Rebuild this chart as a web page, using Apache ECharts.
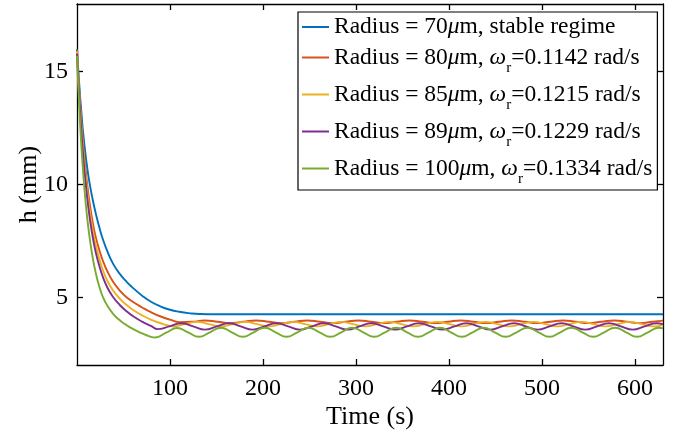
<!DOCTYPE html>
<html>
<head>
<meta charset="utf-8">
<script src="https://cdn.jsdelivr.net/npm/echarts@6/dist/echarts.min.js"></script>
<style>html,body{margin:0;padding:0;background:#fff}#c{width:676px;height:440px}</style>
</head>
<body>
<div id="c"></div>
<script>
// ---- data ----
const xTicks = [100, 200, 300, 400, 500, 600];
const yTicks = [5, 10, 15];
const radii = [70, 80, 85, 89, 100];
const omegas = [null, '0.1142', '0.1215', '0.1229', '0.1334'];

const blueT = [0,1,2,3,4,5,6,8,10,12,14,17,20,24,28,33,39,46,52,60,71,80,90,100,110,120,132,150,630];
const blueH = [16.0,15.3,14.7,14.1,13.55,13.05,12.55,11.75,11.05,10.45,9.95,9.3,8.75,8.1,7.55,7.0,6.47,6.04,5.75,5.42,5.04,4.79,4.59,4.45,4.36,4.3,4.26,4.25,4.25];

const orangeT = [0,1,2,3,4,5,6,8,10,12,14,17,20,24,28,33,39,46,52,60,70,80,90,100,
  110,123.75,137.5,151.25,165,178.75,192.5,206.25,220,233.75,247.5,261.25,275,288.75,302.5,316.25,330,343.75,357.5,371.25,385,398.75,412.5,426.25,440,453.75,467.5,481.25,495,508.75,522.5,536.25,550,563.75,577.5,591.25,605,618.75,630];
const orangeH = [15.95,15.18,14.45,13.78,13.17,12.6,12.08,11.15,10.35,9.65,9.06,8.3,7.7,7.1,6.6,6.12,5.68,5.3,5.05,4.8,4.55,4.33,4.15,4.01,
  3.9,3.915,3.975,3.915,3.855,3.915,3.975,3.915,3.855,3.915,3.975,3.915,3.855,3.915,3.975,3.915,3.855,3.915,3.975,3.915,3.855,3.915,3.975,3.915,3.855,3.915,3.975,3.915,3.855,3.915,3.975,3.915,3.855,3.915,3.975,3.915,3.855,3.915,3.965];

const yellowT = [0,1,2,3,4,5,6,8,10,12,14,17,20,24,28,33,39,46,52,60,70,80,90,97,
  103,115.9,128.9,141.8,154.7,167.6,180.6,193.5,206.4,219.3,232.3,245.2,258.1,271,284,296.9,309.8,322.7,335.7,348.6,361.5,374.4,387.4,400.3,413.2,426.1,439.1,452,464.9,477.8,490.8,503.7,516.6,529.5,542.5,555.4,568.3,581.2,594.2,607.1,620,630];
const yellowH = [15.9,15.09,14.34,13.65,13.01,12.43,11.88,10.9,10.08,9.36,8.75,7.97,7.34,6.71,6.19,5.7,5.29,4.94,4.7,4.45,4.2,4.0,3.85,3.76,
  3.71,3.81,3.91,3.81,3.71,3.81,3.91,3.81,3.71,3.81,3.91,3.81,3.71,3.81,3.91,3.81,3.71,3.81,3.91,3.81,3.71,3.81,3.91,3.81,3.71,3.81,3.91,3.81,3.71,3.81,3.91,3.81,3.71,3.81,3.91,3.81,3.71,3.81,3.91,3.81,3.71,3.78];

const purpleT = [0,1,2,3,4,5,6,8,10,12,14,17,20,24,28,33,39,46,52,60,70,80,
  86.5,99.3,112.1,124.8,137.6,150.4,163.2,175.9,188.7,201.5,214.3,227,239.8,252.6,265.4,278.1,290.9,303.7,316.5,329.2,342,354.8,367.6,380.3,393.1,405.9,418.7,431.4,444.2,457,469.8,482.5,495.3,508.1,520.9,533.6,546.4,559.2,572,584.7,597.5,610.3,623.1,630];
const purpleH = [15.8,14.95,14.17,13.45,12.8,12.19,11.62,10.62,9.77,9.05,8.42,7.65,7.02,6.39,5.88,5.4,5.0,4.66,4.43,4.17,3.92,3.72,
  3.59,3.71,3.85,3.71,3.57,3.71,3.85,3.71,3.57,3.71,3.85,3.71,3.57,3.71,3.85,3.71,3.57,3.71,3.85,3.71,3.57,3.71,3.85,3.71,3.57,3.71,3.85,3.71,3.57,3.71,3.85,3.71,3.57,3.71,3.85,3.71,3.57,3.71,3.85,3.71,3.57,3.71,3.85,3.81];

const greenT = [0,1,2,3,4,5,6,8,10,12,14,17,20,24,28,33,39,46,52,60,70,78,
  84,95.8,107.6,119.3,131.1,142.9,154.7,166.4,178.2,190,201.8,213.5,225.3,237.1,248.9,260.6,272.4,284.2,296,307.7,319.5,331.3,343.1,354.8,366.6,378.4,390.2,401.9,413.7,425.5,437.3,449,460.8,472.6,484.4,496.1,507.9,519.7,531.5,543.2,555,566.8,578.6,590.3,602.1,613.9,625.7,630];
const greenH = [15.7,14.7,13.79,12.95,12.19,11.51,10.89,9.8,8.9,8.15,7.52,6.73,6.11,5.47,5.0,4.6,4.26,3.98,3.8,3.6,3.4,3.27,
  3.22,3.43,3.64,3.45,3.25,3.45,3.65,3.45,3.25,3.45,3.65,3.45,3.25,3.45,3.65,3.45,3.25,3.45,3.65,3.45,3.25,3.45,3.65,3.45,3.25,3.45,3.65,3.45,3.25,3.45,3.65,3.45,3.25,3.45,3.65,3.45,3.25,3.45,3.65,3.45,3.25,3.45,3.65,3.45,3.25,3.45,3.65,3.62];

// ---- chart ----
const FONT = 'Liberation Serif, Times New Roman, serif';
const colors = ['#0072BD', '#D95319', '#EDB120', '#7E2F8E', '#77AC30'];
const allT = [blueT, orangeT, yellowT, purpleT, greenT];
const allH = [blueH, orangeH, yellowH, purpleH, greenH];
const names = radii.map((r, i) => 'Radius = ' + r + 'μm, ' + (omegas[i] ? 'ωr=' + omegas[i] + ' rad/s' : 'stable regime'));

function legendFmt(name) {
  let m = name.match(/^Radius = (\d+)μm, ωr=(.*)$/);
  if (m) return '{t|Radius = ' + m[1] + '}{i|μ}{t|m, }{i|ω}{s|r}{t|=' + m[2] + '}';
  m = name.match(/^Radius = (\d+)μm, (.*)$/);
  return '{t1|Radius = ' + m[1] + '}{i1|μ}{t1|m, ' + m[2] + '}';
}

const series = names.map((n, k) => ({
  name: n,
  type: 'line',
  data: allT[k].map((t, i) => [t, allH[k][i]]),
  symbol: 'none',
  showSymbol: false,
  smooth: true,
  lineStyle: { color: colors[k], width: 1.9 },
  itemStyle: { color: colors[k] },
  z: 2 + k
}));

const axLine = { show: true, onZero: false, lineStyle: { color: '#000', width: 1.3 } };
const tickStyle = { color: '#000', width: 1.3 };
const FS = 23.5;

const chart = echarts.init(document.getElementById('c'), null, { renderer: 'canvas' });
chart.setOption({
  animation: false,
  backgroundColor: '#fff',
  grid: { left: 77, right: 13, top: 4, bottom: 75, containLabel: false },
  legend: {
    data: names.map((n, k) => ({ name: n, icon: 'rect', itemStyle: { color: colors[k], borderWidth: 0 } })),
    orient: 'vertical',
    left: 298,
    top: 12,
    padding: [3, 5, 3, 4],
    itemGap: 0,
    itemWidth: 27,
    itemHeight: 2,
    selectedMode: false,
    borderColor: '#000',
    borderWidth: 1.2,
    borderRadius: 0,
    backgroundColor: '#fff',
    formatter: legendFmt,
    textStyle: {
      fontFamily: FONT, fontSize: FS, color: '#000',
      rich: {
        t: { fontFamily: FONT, fontSize: FS, lineHeight: 37, color: '#000' },
        i: { fontFamily: FONT, fontSize: FS, lineHeight: 37, fontStyle: 'italic', color: '#000' },
        s: { fontFamily: FONT, fontSize: 15, lineHeight: 15, padding: [22, 0, 0, 0], verticalAlign: 'top', color: '#000' },
        t1: { fontFamily: FONT, fontSize: FS, lineHeight: 25, color: '#000' },
        i1: { fontFamily: FONT, fontSize: FS, lineHeight: 25, fontStyle: 'italic', color: '#000' }
      }
    }
  },
  xAxis: [
    {
      type: 'value', position: 'bottom', min: 0, max: 630,
      axisLine: axLine,
      axisTick: { show: true, inside: true, length: 6, customValues: xTicks, lineStyle: tickStyle },
      axisLabel: { customValues: xTicks, fontFamily: FONT, fontSize: 24, color: '#000', margin: 12 },
      splitLine: { show: false },
      name: 'Time (s)', nameLocation: 'middle', nameGap: 39, nameMoveOverlap: false,
      nameTextStyle: { fontFamily: FONT, fontSize: 26, color: '#000' }
    },
    {
      type: 'value', position: 'top', min: 0, max: 630,
      axisLine: axLine,
      axisTick: { show: true, inside: true, length: 6, customValues: xTicks, lineStyle: tickStyle },
      axisLabel: { show: false },
      splitLine: { show: false }
    }
  ],
  yAxis: [
    {
      type: 'value', position: 'left', min: 2, max: 18,
      axisLine: axLine,
      axisTick: { show: true, inside: true, length: 6, customValues: yTicks, lineStyle: tickStyle },
      axisLabel: { customValues: yTicks, fontFamily: FONT, fontSize: 24, color: '#000', margin: 9 },
      splitLine: { show: false },
      name: 'h (mm)', nameLocation: 'middle', nameGap: 35, nameRotate: 90, nameMoveOverlap: false,
      nameTextStyle: { fontFamily: FONT, fontSize: 26, color: '#000' }
    },
    {
      type: 'value', position: 'right', min: 2, max: 18,
      axisLine: axLine,
      axisTick: { show: true, inside: true, length: 6, customValues: yTicks, lineStyle: tickStyle },
      axisLabel: { show: false },
      splitLine: { show: false }
    }
  ],
  series: series
});
</script>
</body>
</html>
